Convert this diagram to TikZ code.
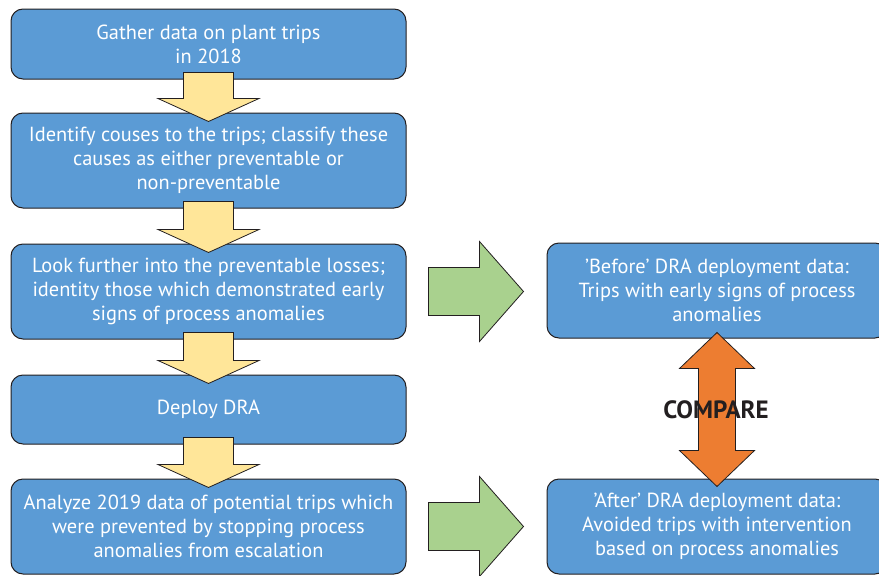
\documentclass[tikz,border=0pt]{standalone}
\usepackage{fontspec}
\setmainfont{PT Sans}
\usetikzlibrary{calc}
\definecolor{boxblue}{HTML}{5B9BD5}
\definecolor{edge}{HTML}{231F20}
\definecolor{ayellow}{HTML}{FFE699}
\definecolor{agreen}{HTML}{A9D18E}
\definecolor{aorange}{HTML}{ED7D31}
\newcommand{\sq}{\char"0027\relax}
\tikzset{
  flowbox/.style={draw=edge, line width=1pt, fill=boxblue, rounded corners=12pt,
    text=white, align=center, inner sep=0pt, font=\fontsize{20.4}{24}\selectfont},
  leftbox/.style={flowbox, minimum width=395pt},
  rightbox/.style={flowbox, minimum width=340pt},
  yarr/.style={draw=edge, line width=0.8pt, fill=ayellow},
  garr/.style={draw=edge, line width=0.8pt, fill=agreen},
  oarr/.style={draw=edge, line width=0.8pt, fill=aorange},
}
\newcommand{\blockdown}[2]{%
  \draw[yarr] let \p1=(#1.south), \p2=(#2.north) in
    (\x1-25pt,\y1+7pt) -- (\x1+25pt,\y1+7pt) -- (\x1+25pt,\y2+14pt) --
    (\x1+50.5pt,\y2+14pt) -- (\x1,\y2-9pt) -- (\x1-50.5pt,\y2+14pt) --
    (\x1-25pt,\y2+14pt) -- cycle;}
\newcommand{\blockright}[2]{%
  \draw[garr] let \p1=(#1.east), \p2=(#2.west) in
    (\x1+22pt,\y1+24pt) -- (\x2-67pt,\y1+24pt) -- (\x2-67pt,\y1+50pt) --
    (\x2-23pt,\y1) -- (\x2-67pt,\y1-50pt) -- (\x2-67pt,\y1-24pt) --
    (\x1+22pt,\y1-24pt) -- cycle;}
\begin{document}
\begin{tikzpicture}[x=1pt,y=1pt]
\useasboundingbox (0,0) rectangle (879,-576);
\clip (0,0) rectangle (879,-576);
\node[leftbox, minimum height=70pt] (b1) at (208.5,-44) {Gather data on plant trips\\in 2018};
\node[leftbox, minimum height=95pt] (b2) at (208.5,-160.5) {Identify couses to the trips; classify these\\causes as either preventable or\\non-preventable};
\node[leftbox, minimum height=95pt] (b3) at (208.5,-291.5) {Look further into the preventable losses;\\identity those which demonstrated early\\signs of process anomalies};
\node[leftbox, minimum height=69pt] (b4) at (208.5,-409.5) {Deploy DRA};
\node[leftbox, minimum height=95pt] (b5) at (208.5,-526.5) {Analyze 2019 data of potential trips which\\were prevented by stopping process\\anomalies from escalation};
\node[rightbox, minimum height=95pt] (r1) at (717,-290.5) {\sq Before\sq{} DRA deployment data:\\Trips with early signs of process\\anomalies};
\node[rightbox, minimum height=95pt] (r2) at (717,-526.5) {\sq After\sq{} DRA deployment data:\\Avoided trips with intervention\\based on process anomalies};
\blockdown{b1}{b2}
\blockdown{b2}{b3}
\blockdown{b3}{b4}
\blockdown{b4}{b5}
\blockright{b3}{r1}
\blockright{b5}{r2}
\draw[oarr] let \p1=(r1.south), \p2=(r2.north) in
  (\x1,\y1+6pt) -- (\x1+37.5pt,\y1-30pt) -- (\x1+18.5pt,\y1-30pt) --
  (\x1+18.5pt,\y2+28pt) -- (\x1+37.5pt,\y2+28pt) -- (\x1,\y2-8pt) --
  (\x1-37.5pt,\y2+28pt) -- (\x1-18.5pt,\y2+28pt) -- (\x1-18.5pt,\y1-30pt) --
  (\x1-37.5pt,\y1-30pt) -- cycle;
\node[font=\fontsize{25}{28}\selectfont\bfseries, text=edge] (cmp) at (716,-410) {COMPARE};
\end{tikzpicture}
\end{document}
